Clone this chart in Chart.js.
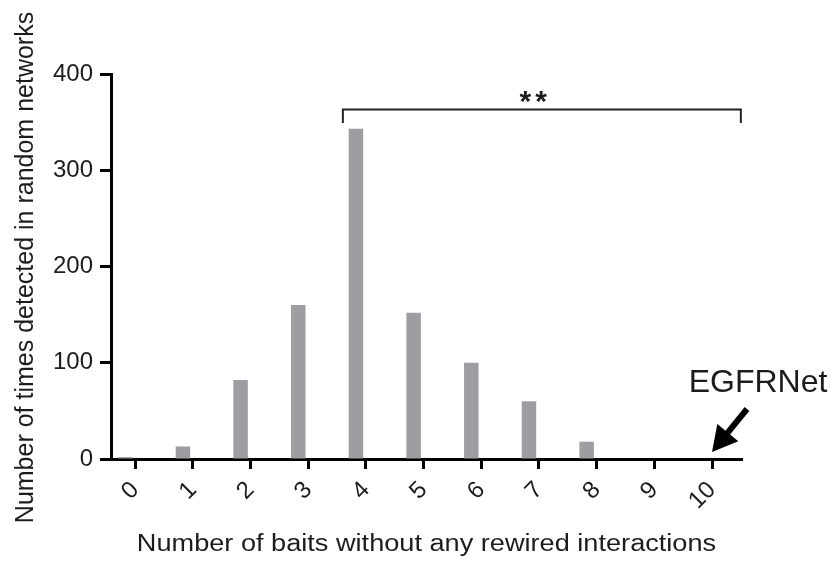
<!DOCTYPE html>
<html>
<head>
<meta charset="utf-8">
<script src="https://cdn.jsdelivr.net/npm/chart.js@4"></script>
<style>
  html, body { margin: 0; padding: 0; background: #ffffff; }
  #c { display: block; }
</style>
</head>
<body>
<canvas id="c" width="831" height="561"></canvas>
<script>
// Number of baits left without any rewired interaction (x categories)
const baitCounts = [0, 1, 2, 3, 4, 5, 6, 7, 8, 9, 10];
// How often each count occurred across the random networks
const randomNetworkCounts = [2, 13, 82, 160, 343, 152, 100, 60, 18, 0, 0];
// The observed network sits at a single count, with no random-network height
const egfrNetCounts = [null, null, null, null, null, null, null, null, null, null, 0];
const egfrNetBaits = 10;
const yTickValues = [0, 100, 200, 300, 400];

const xTitle = 'Number of baits without any rewired interactions';
const yTitle = 'Number of times detected in random networks';
const egfrLabel = 'EGFRNet';
const significance = '**';

const FONT = '"Liberation Sans", Arial, Helvetica, sans-serif';
const INK = '#1c1c1c';

// Bracket, stars, arrow, observed-network label and the axis titles
const overlay = {
  id: 'overlay',
  afterDraw(chart) {
    const ctx = chart.ctx;
    const xs = chart.scales.x, ys = chart.scales.y;
    const area = chart.chartArea;
    ctx.save();

    // significance bracket spanning the tail of the distribution
    const bx1 = xs.getPixelForValue(3.6), bx2 = xs.getPixelForValue(10.5);
    const byTop = ys.getPixelForValue(363), byEnd = ys.getPixelForValue(349);
    ctx.strokeStyle = '#222';
    ctx.lineWidth = 2;
    ctx.beginPath();
    ctx.moveTo(bx1, byEnd); ctx.lineTo(bx1, byTop);
    ctx.lineTo(bx2, byTop); ctx.lineTo(bx2, byEnd);
    ctx.stroke();

    // stars above the bracket
    ctx.fillStyle = INK;
    ctx.font = 'bold 30px ' + FONT;
    ctx.letterSpacing = '4px';
    ctx.textAlign = 'center';
    ctx.textBaseline = 'alphabetic';
    const m = ctx.measureText(significance);
    const starMid = byTop - 13;
    const base = starMid + (m.actualBoundingBoxAscent - m.actualBoundingBoxDescent) / 2;
    ctx.fillText(significance, xs.getPixelForValue(6.9) + 2, base);
    ctx.letterSpacing = '0px';

    // arrow pointing at the observed network's count
    const tx = xs.getPixelForValue(egfrNetBaits);
    const ty = ys.getPixelForValue(0);
    const tip = { x: tx, y: ty - 7 };
    const tail = { x: tx + 35, y: ty - 50 };
    const dx = tail.x - tip.x, dy = tail.y - tip.y;
    const len = Math.hypot(dx, dy);
    const ux = dx / len, uy = dy / len;
    const nx = -uy, ny = ux;
    const headLen = 25, headHalf = 13.5, shaftHalf = 3;
    const hb = { x: tip.x + ux * headLen, y: tip.y + uy * headLen };
    ctx.fillStyle = '#000';
    ctx.beginPath();
    ctx.moveTo(tip.x, tip.y);
    ctx.lineTo(hb.x + nx * headHalf, hb.y + ny * headHalf);
    ctx.lineTo(hb.x + nx * shaftHalf, hb.y + ny * shaftHalf);
    ctx.lineTo(tail.x + nx * shaftHalf, tail.y + ny * shaftHalf);
    ctx.lineTo(tail.x - nx * shaftHalf, tail.y - ny * shaftHalf);
    ctx.lineTo(hb.x - nx * shaftHalf, hb.y - ny * shaftHalf);
    ctx.lineTo(hb.x - nx * headHalf, hb.y - ny * headHalf);
    ctx.closePath();
    ctx.fill();

    // label of the observed network
    ctx.fillStyle = INK;
    ctx.font = '32px ' + FONT;
    ctx.textAlign = 'center';
    ctx.textBaseline = 'alphabetic';
    ctx.fillText(egfrLabel, tx + 46, ty - 67);

    // x-axis title (slightly widened lettering)
    ctx.save();
    ctx.font = '23px ' + FONT;
    ctx.translate((area.left + area.right) / 2, 551);
    ctx.scale(1.18, 1);
    ctx.textAlign = 'center';
    ctx.fillText(xTitle, 0, 0);
    ctx.restore();

    // y-axis title
    ctx.save();
    ctx.font = '25px ' + FONT;
    ctx.translate(33, (area.top + area.bottom) / 2 + 1);
    ctx.rotate(-Math.PI / 2);
    ctx.textAlign = 'center';
    ctx.fillText(yTitle, 0, 0);
    ctx.restore();

    ctx.restore();
  }
};

new Chart(document.getElementById('c'), {
  type: 'bar',
  data: {
    datasets: [
      {
        label: 'Random networks',
        data: baitCounts.map((b, i) => ({ x: b, y: randomNetworkCounts[i] })),
        backgroundColor: '#9e9da2',
        borderWidth: 0,
        categoryPercentage: 0.693,
        barPercentage: 0.725
      },
      {
        label: egfrLabel,
        data: baitCounts.map((b, i) => ({ x: b, y: egfrNetCounts[i] })),
        backgroundColor: '#000000',
        borderWidth: 0,
        categoryPercentage: 0.693,
        barPercentage: 0.725
      }
    ]
  },
  options: {
    responsive: false,
    animation: false,
    layout: { padding: { left: 0, right: 89, top: 74, bottom: 0 } },
    plugins: { legend: { display: false }, tooltip: { enabled: false } },
    scales: {
      x: {
        type: 'linear',
        min: -0.42,
        max: 10.52,
        offset: false,
        afterBuildTicks(s) { s.ticks = baitCounts.map(v => ({ value: v })); },
        afterFit(s) { s.height = 102; },
        grid: {
          display: true, offset: false, drawOnChartArea: false, drawTicks: true,
          tickLength: 10, tickWidth: 3, tickColor: '#000'
        },
        border: { display: true, width: 3, color: '#000' },
        ticks: {
          autoSkip: false, minRotation: 45, maxRotation: 45, padding: 7,
          color: INK, font: { family: FONT, size: 24 },
          callback: v => String(v)
        },
        title: { display: false }
      },
      y: {
        min: 0,
        max: 400,
        afterBuildTicks(s) { s.ticks = yTickValues.map(v => ({ value: v })); },
        afterFit(s) { s.width = 111; },
        grid: {
          display: true, drawOnChartArea: false, drawTicks: true,
          tickLength: 11, tickWidth: 3, tickColor: '#000'
        },
        border: { display: true, width: 3, color: '#000' },
        ticks: { padding: 7, color: INK, font: { family: FONT, size: 24 } },
        title: { display: false }
      }
    }
  },
  plugins: [overlay]
});
</script>
</body>
</html>
